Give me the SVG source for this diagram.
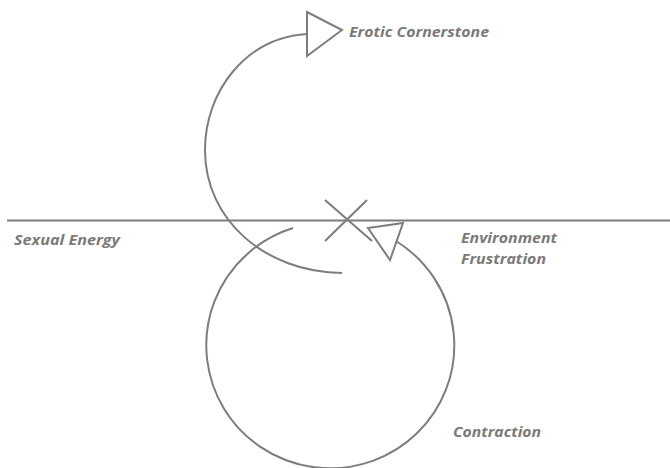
<svg xmlns="http://www.w3.org/2000/svg" width="670" height="468" viewBox="0 0 670 468">
<style>
.ln{fill:none;stroke:#7d7d7d;stroke-width:2}
.ah{fill:#fff;stroke:#7d7d7d;stroke-width:2;stroke-linejoin:miter}
.lb{font-family:"Open Sans","Liberation Sans",sans-serif;font-weight:bold;font-style:italic;font-size:15px;fill:#7a7a7a}
</style>
<rect width="670" height="468" fill="#fff"/>
<g id="connectors">
<line class="ln" x1="7" y1="220.5" x2="670" y2="220.5"/>
<path class="ln" d="M307,34 C245,38 205,92 205,150 C205,220 265,272 342,273"/>
<path class="ln" d="M293,228 A124,123 0 1 0 396,241"/>
<polygon class="ah" points="307,12 307,56 342,30"/>
<polygon class="ah" points="403,223 390,260 368,228"/>
</g>
<g id="cross">
<line class="ln" x1="325" y1="200" x2="372" y2="241"/>
<line class="ln" x1="367" y1="200" x2="325" y2="241"/>
</g>
<g id="erotic-cornerstone"><text class="lb" x="349" y="37" textLength="140" lengthAdjust="spacingAndGlyphs">Erotic Cornerstone</text></g>
<g id="sexual-energy"><text class="lb" x="14" y="245" textLength="106" lengthAdjust="spacingAndGlyphs">Sexual Energy</text></g>
<g id="environment-frustration"><text class="lb" x="461" y="243" textLength="96" lengthAdjust="spacingAndGlyphs">Environment</text><text class="lb" x="461" y="264" textLength="85" lengthAdjust="spacingAndGlyphs">Frustration</text></g>
<g id="contraction"><text class="lb" x="453" y="437" textLength="88" lengthAdjust="spacingAndGlyphs">Contraction</text></g>
</svg>
